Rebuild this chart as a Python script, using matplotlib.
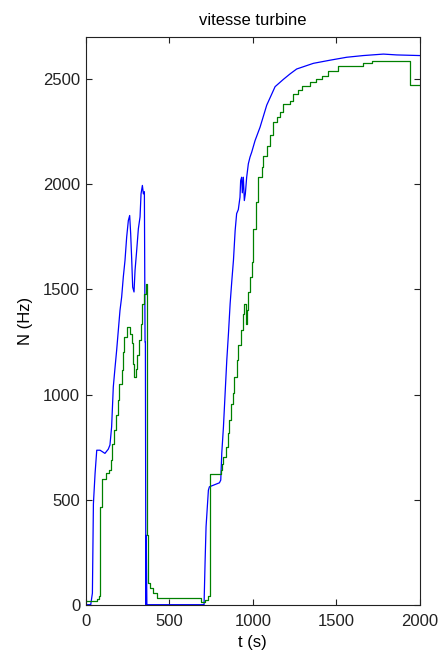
import matplotlib
matplotlib.use("Agg")
import matplotlib.pyplot as plt

plt.rcParams['font.family'] = ['Liberation Sans', 'DejaVu Sans']

# blue trace: turbine speed (measured)
t_blue = [0, 30, 40, 46, 56, 66, 86, 115, 135, 145, 155, 165, 175, 185, 195,
          205, 215, 225, 235, 245, 255, 263, 269, 275, 281, 289, 295, 305,
          315, 325, 331, 339, 345, 351, 355, 357, 360, 362, 366, 708, 714,
          720, 734, 740, 800, 808, 814, 824, 834, 844, 854, 864, 874, 884,
          894, 903, 913, 923, 927, 933, 937, 943, 949, 955, 963, 973, 983,
          993, 1013, 1043, 1083, 1133, 1183, 1223, 1262, 1362, 1462, 1562,
          1661, 1781, 1861, 2000]
n_blue = [0, 0, 55, 480, 625, 735, 735, 720, 740, 760, 846, 1036, 1125, 1210,
          1305, 1400, 1464, 1560, 1638, 1749, 1828, 1852, 1765, 1646, 1511,
          1488, 1590, 1686, 1789, 1845, 1955, 1995, 1955, 1965, 1250, 1250,
          0, 330, 0, 0, 198, 371, 545, 561, 580, 593, 721, 846, 1005, 1163,
          1290, 1432, 1540, 1640, 1780, 1861, 1880, 1939, 2018, 2034, 1960,
          2034, 1923, 1955, 2034, 2098, 2130, 2153, 2208, 2272, 2377, 2465,
          2500, 2526, 2549, 2576, 2591, 2605, 2613, 2620, 2616, 2613]

# green trace: turbine speed (model), stepped
t_green = [0, 66, 80, 86, 96, 115, 121, 141, 150, 159, 171, 181, 191, 201,
           215, 221, 231, 245, 255, 265, 275, 281, 289, 299, 309, 319, 329,
           339, 351, 359, 365, 371, 385, 405, 429, 684, 690, 714, 734, 742,
           800, 808, 814, 824, 838, 850, 860, 870, 880, 890, 903, 913, 927,
           939, 947, 953, 959, 967, 973, 983, 993, 1003, 1017, 1019, 1033,
           1053, 1063, 1083, 1103, 1122, 1143, 1163, 1179, 1223, 1242, 1272,
           1292, 1342, 1378, 1412, 1452, 1511, 1661, 1711, 1940, 2000]
n_green = [17, 25, 40, 466, 596, 600, 627, 640, 688, 767, 830, 902, 973, 1052,
           1115, 1202, 1274, 1321, 1321, 1290, 1245, 1147, 1084, 1120, 1186,
           1258, 1337, 1432, 1480, 1528, 331, 102, 78, 54, 30, 30, 14, 20, 40,
           624, 624, 640, 670, 703, 751, 815, 878, 957, 1005, 1084, 1163, 1234,
           1306, 1385, 1432, 1432, 1337, 1400, 1488, 1559, 1630, 1789, 1800,
           1915, 2034, 2082, 2137, 2185, 2233, 2296, 2319, 2343, 2383, 2399,
           2430, 2449, 2470, 2486, 2502, 2518, 2538, 2565, 2576, 2586, 2475,
           2475]

x_ticks = [0, 500, 1000, 1500, 2000]
y_ticks = [0, 500, 1000, 1500, 2000, 2500]

fig = plt.figure(figsize=(4.38, 6.54), dpi=100)
ax = fig.add_axes([0.1957, 0.0754, 0.7632, 0.8676])

ax.plot(t_blue, n_blue, color="#0000ff", lw=0.9)
ax.plot(t_green, n_green, color="#008000", lw=0.9, drawstyle="steps-post")

ax.set_xlim(0, 2000)
ax.set_ylim(0, 2700)
ax.set_xticks(x_ticks)
ax.set_yticks(y_ticks)
ax.tick_params(direction="in", length=4, width=0.8, top=True, right=True,
               labelsize=12, pad=4, colors="#222222")
ax.tick_params(axis="x", pad=7)
for s in ax.spines.values():
    s.set_linewidth(0.8)
    s.set_color("#222222")

ax.set_title("vitesse turbine", fontsize=12, pad=9)
ax.set_xlabel("t (s)", fontsize=12, labelpad=4)
ax.set_ylabel("N (Hz)", fontsize=12, labelpad=7)

fig.savefig("out.png", dpi=100, facecolor="white")
